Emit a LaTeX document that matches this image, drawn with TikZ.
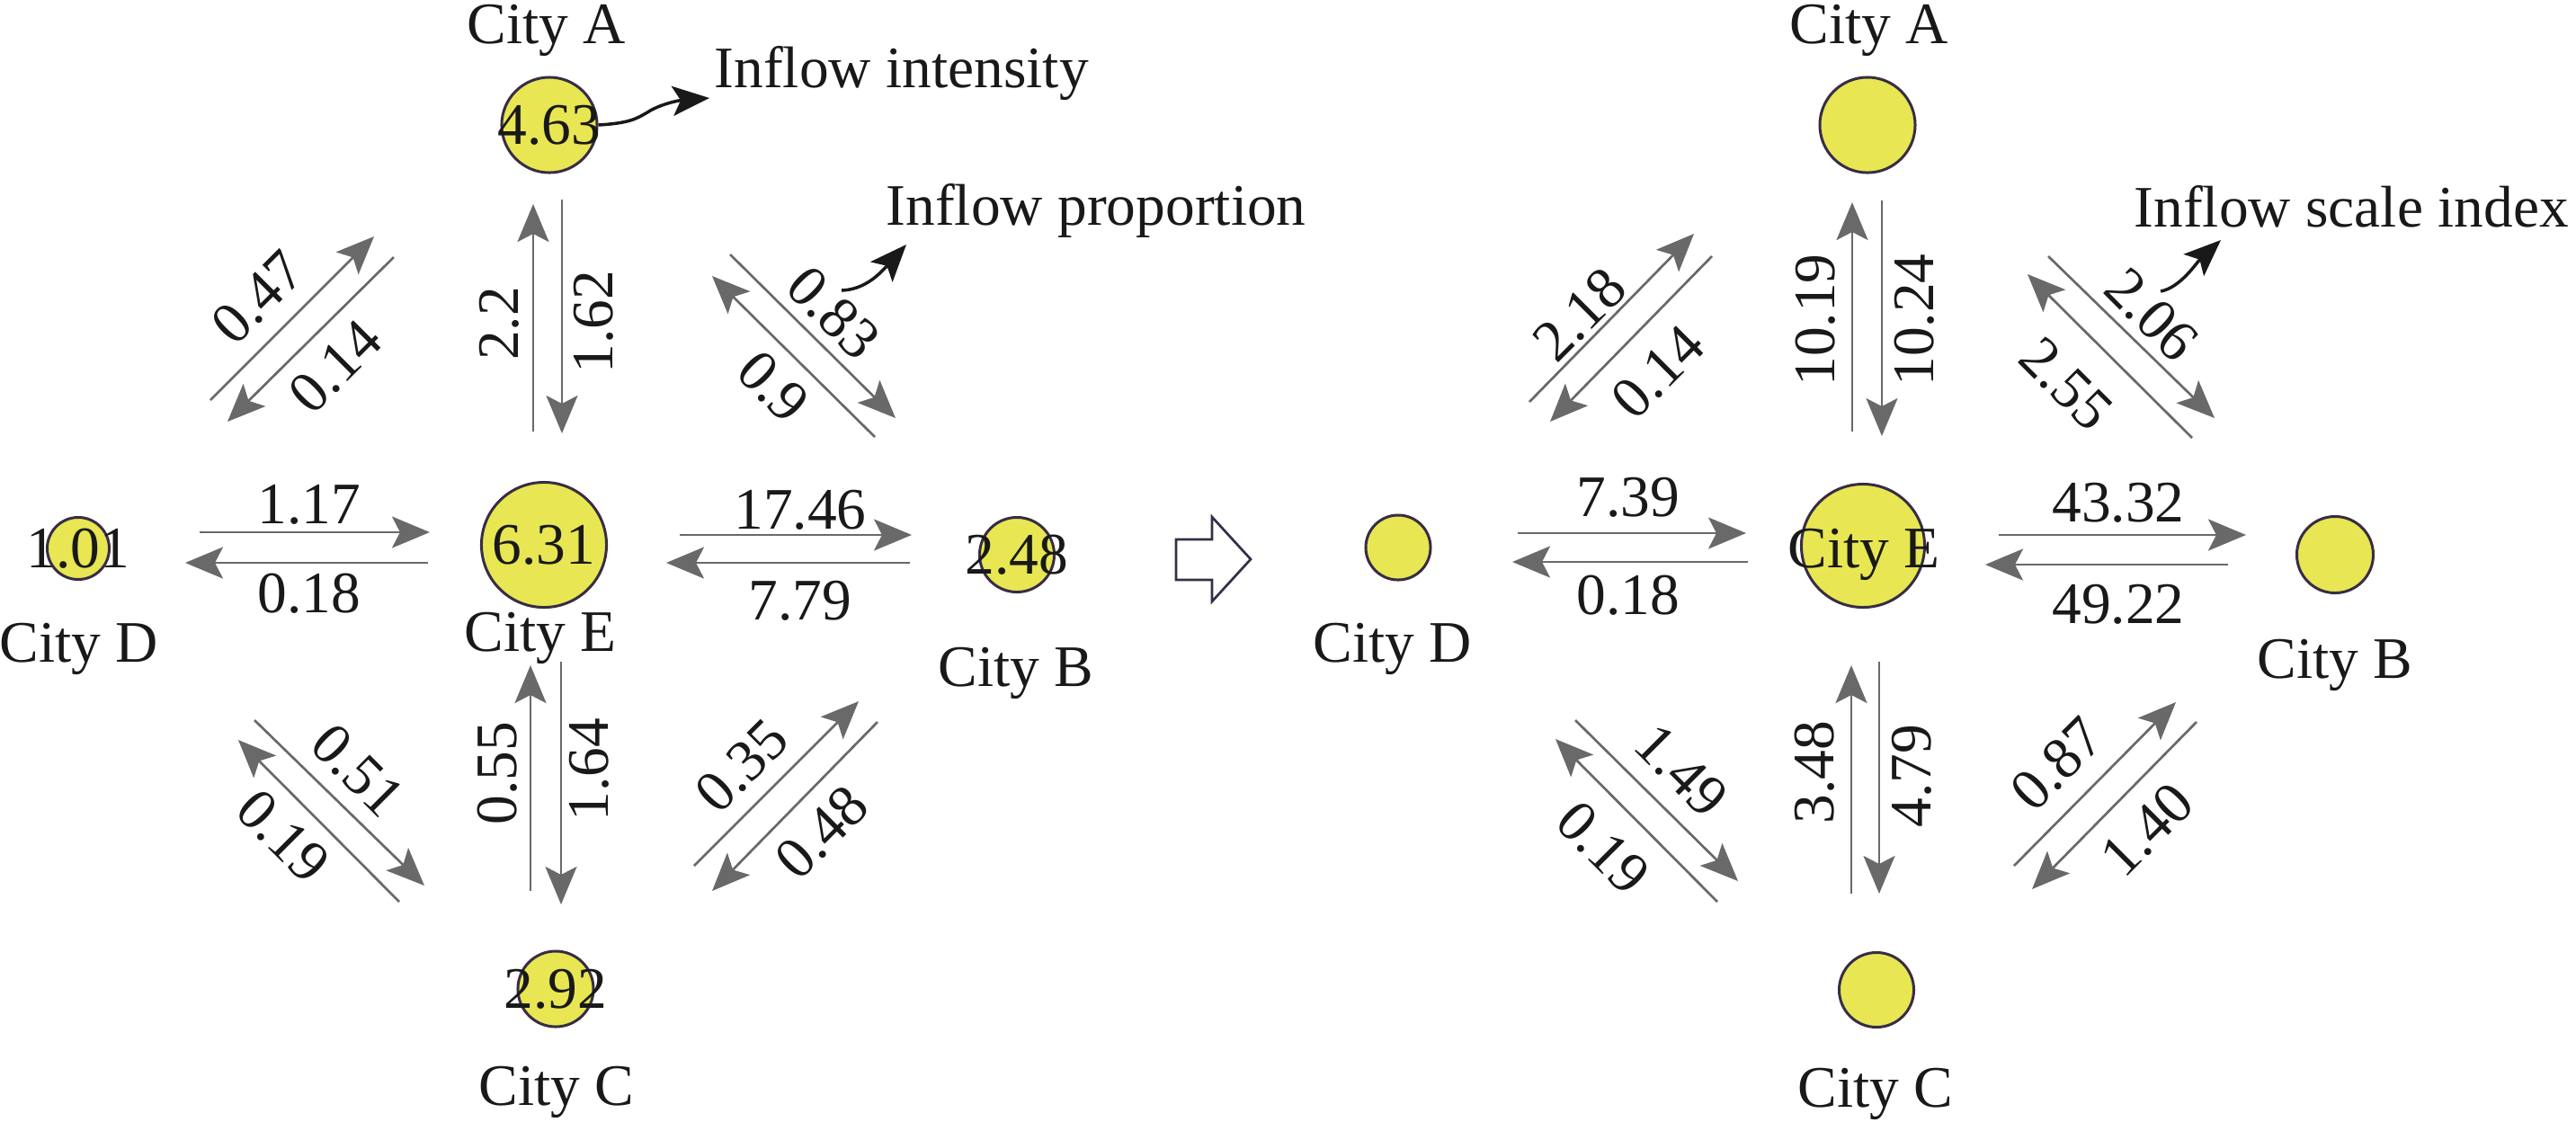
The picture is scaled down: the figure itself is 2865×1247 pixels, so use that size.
\documentclass[tikz,border=0pt]{standalone}
\usepackage{fontspec}
\setmainfont{Liberation Serif}
\usetikzlibrary{arrows.meta}
\definecolor{cityfill}{RGB}{232,230,82}
\definecolor{cityedge}{RGB}{55,45,70}
\definecolor{flowgray}{RGB}{105,105,105}
\definecolor{inkblack}{RGB}{25,25,25}

\begin{document}
\begin{tikzpicture}[x=0.01cm, y=-0.01cm,
	every node/.style={font=\fontsize{18.6}{22}\selectfont, text=inkblack, inner sep=0pt},
	city/.style={circle, draw=cityedge, line width=0.3mm, fill=cityfill, minimum size=#1},
	flow/.style={draw=flowgray, line width=0.27mm, -{Stealth[length=4.2mm, width=3.5mm, inset=0.9mm, fill=flowgray]}},
	note/.style={draw=inkblack, line width=0.35mm, -{Stealth[length=4.1mm, width=3.3mm, inset=0.9mm, fill=inkblack]}}]
	\useasboundingbox (0,0) rectangle (2865,1247);
	
	\foreach \n/\x/\y/\d/\v in {lA/611/139/10.6/4.63, lE/605/606/13.9/6.31, lD/87/610/6.9/1.01, lB/1131/617/8.3/2.48, lC/618/1100/8.4/2.92}
	{
		\node[city=\d mm] (\n) at (\x,\y) {};
		\node (\n v) at (\n) {\v};
	}
	\foreach \n/\x/\y/\d in {rA/2077/139/10.6, rE/2072/607/13.7, rD/1555/609/7.2, rB/2597/617/8.5, rC/2087/1101/8.3}
	{
		\node[city=\d mm] (\n) at (\x,\y) {};
	}
	
	\foreach \n/\x/\y/\t in {lAt/608/48/A, lDt/88/736/D, lEt/601/724/E, lBt/1130/763/B, lCt/619/1229/C, rAt/2079/48/A, rDt/1549/736/D, rEt/2073/631/E, rBt/2597/754/B, rCt/2086/1231/C}
	{
		\node[anchor=base] (\n) at (\x,\y) {City \t};
	}
	
	\foreach \n/\xa/\ya/\xb/\yb/\lx/\ly/\r/\v in {
		lEA/593/480/593/227/555/360/90/2.2, lAE/625/222/625/482/660/358/90/1.62,
		lDE/222/592/478/592/344/561/0/1.17, lED/476/626/206/626/344/660/0/0.18,
		lEB/756/595/1014/595/890/567/0/17.46, lBE/1012/626/741/626/890/668/0/7.79,
		lCE/590/991/590/740/553/860/90/0.55, lEC/624/736/624/1006/655/856/90/1.64,
		lDA/234/445/416/263/287/331/45/0.47, lAD/438/286/253/469/373/408/45/0.14,
		lAB/812/283/996/465/927/348/-45/0.83, lBA/973/486/792/307/860/430/-45/0.9,
		lDC/283/801/472/985/398/857/-45/0.51, lCD/444/1003/265/823/315/930/-45/0.19,
		lCB/772/963/955/780/825/852/45/0.35, lBC/976/803/792/991/914/926/45/0.48,
		rEA/2060/480/2060/225/2019/356/90/10.19, rAE/2093/223/2093/485/2129/356/90/10.24,
		rDE/1688/593/1942/593/1811/553/0/7.39, rED/1944/625/1682/625/1811/662/0/0.18,
		rEB/2223/595/2498/595/2356/559/0/43.32, rBE/2478/628/2208/628/2356/672/0/49.22,
		rCE/2059/994/2059/740/2018/859/90/3.48, rEC/2090/736/2090/994/2126/863/90/4.79,
		rDA/1701/447/1884/260/1757/350/45/2.18, rAD/1904/285/1724/469/1844/414/45/0.14,
		rAB/2278/285/2463/465/2393/350/-45/2.06, rBA/2438/487/2255/305/2298/427/-45/2.55,
		rDC/1752/801/1933/980/1870/857/-45/1.49, rCD/1910/1003/1730/822/1783/943/-45/0.19,
		rCB/2240/963/2420/781/2288/850/45/0.87, rBC/2443/803/2260/989/2388/923/45/1.40}
	{
		\coordinate (\n s) at (\xa,\ya);
		\coordinate (\n t) at (\xb,\yb);
		\draw[flow] (\n s) -- (\n t);
		\node[rotate=\r] (\n l) at (\lx,\ly) {\v};
	}
	
	\node[anchor=base west] (intensity) at (794,97) {Inflow intensity};
	\node[anchor=base west] (proportion) at (985,250) {Inflow proportion};
	\node[anchor=base west] (scaleindex) at (2373,252) {Inflow scale index};
	\coordinate (intensitytip) at (789,109);
	\coordinate (proptail) at (936,323);
	\coordinate (proptip) at (1008,272);
	\coordinate (scaletail) at (2403,324);
	\coordinate (scaletip) at (2470,267);
	\draw[note] (lA.east) .. controls (700,137) and (708,132) .. (720,125) .. controls (732,117) and (752,112) .. (intensitytip);
	\draw[note] (proptail) .. controls (962,322) and (978,305) .. (proptip);
	\draw[note] (scaletail) .. controls (2425,320) and (2443,292) .. (scaletip);
	
	\draw[cityedge, line width=0.27mm] (1308,600) -- (1348,600) -- (1348,575) -- (1391,622) -- (1348,669) -- (1348,645) -- (1308,645) -- cycle;
\end{tikzpicture}
\end{document}
